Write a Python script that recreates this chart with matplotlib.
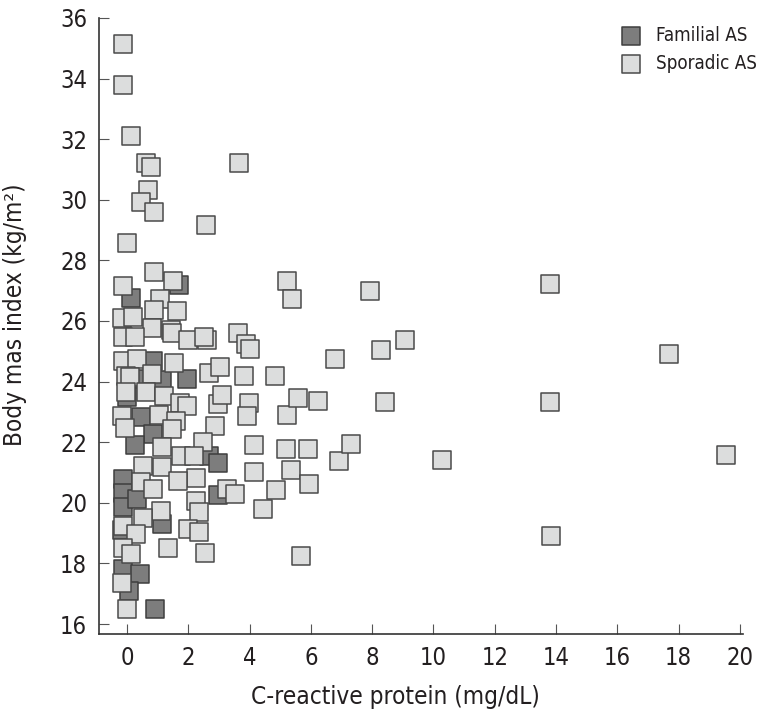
import matplotlib
matplotlib.use("Agg")
import matplotlib.pyplot as plt

plt.rcParams['font.family'] = ['Liberation Sans Narrow', 'DejaVu Sans']
plt.rcParams['font.stretch'] = 'condensed'

# C-reactive protein (mg/dL) and BMI
familial_crp = [1.69, 0.12, 0.85, 0.35, 1.13, 1.96, -0.01, 0.45, 0.84, 0.26,
                2.66, 2.97, 2.96, 1.14, -0.14, -0.14, -0.14, 0.32, -0.17,
                -0.14, 0.42, 0.05, 0.90]
familial_bmi = [27.20, 26.76, 24.68, 24.10, 24.05, 24.10, 23.50, 22.84, 22.27, 21.91,
                21.54, 21.32, 20.26, 19.31, 20.78, 20.31, 19.85, 20.12, 19.10,
                17.83, 17.65, 17.09, 16.50]

sporadic_crp = [-0.14, -0.14, 0.14, 0.63, 0.79, 3.65, 0.68, 0.44, 0.88, 2.59,
                0.01, 0.88, -0.14, 1.50, 5.21, 5.38, 1.09, 1.62, -0.16, 0.19,
                0.88, 0.80, -0.13, 0.26, 1.45, 1.47, 2.00, 2.61, 2.50, 3.61,
                3.88, 4.02, 6.79, -0.14, 0.34, 1.52, -0.05, 0.10, 0.80, 2.66,
                3.04, 3.81, 4.84, -0.05, 0.61, 1.21, 1.73, 1.95, 2.96, 3.10,
                3.97, 3.92, 5.22, 5.57, 6.22, -0.16, -0.07, 1.03, 1.60, 1.48,
                2.86, 2.47, 4.13, 5.20, 5.89, 6.93, 7.32, 1.15, 0.51, 1.14,
                1.76, 2.19, 4.13, 5.34, 5.93, 4.86, 4.45, 3.26, 3.52, 2.24,
                1.67, 2.24, 2.36, 2.00, 2.35, 2.55, 5.68, 1.35, 1.10, 0.51,
                0.45, 0.84, -0.14, 0.28, -0.14, 0.14, -0.16, -0.01, 7.93, 13.81,
                9.07, 8.29, 17.67, 8.43, 13.81, 10.27, 19.53, 13.84]
sporadic_bmi = [35.15, 33.78, 32.11, 31.22, 31.08, 31.22, 30.32, 29.93, 29.60, 29.18,
                28.58, 27.62, 27.16, 27.32, 27.32, 26.71, 26.71, 26.34, 26.09, 26.14,
                26.36, 25.77, 25.48, 25.47, 25.70, 25.60, 25.37, 25.37, 25.48, 25.59,
                25.24, 25.09, 24.76, 24.69, 24.74, 24.62, 24.18, 24.14, 24.25, 24.29,
                24.49, 24.18, 24.18, 23.67, 23.67, 23.52, 23.30, 23.19, 23.27, 23.55,
                23.30, 22.86, 22.89, 23.47, 23.36, 22.86, 22.48, 22.89, 22.71, 22.43,
                22.53, 22.01, 21.90, 21.77, 21.77, 21.38, 21.93, 21.84, 21.21, 21.19,
                21.54, 21.54, 21.03, 21.07, 20.63, 20.41, 19.79, 20.47, 20.29, 20.83,
                20.72, 20.05, 19.70, 19.15, 19.04, 18.34, 18.24, 18.52, 19.73, 19.51,
                20.68, 20.45, 19.23, 18.96, 18.50, 18.30, 17.34, 16.50, 27.00, 27.23,
                25.36, 25.03, 24.92, 23.33, 23.33, 21.40, 21.59, 18.90]

xticks = list(range(0, 21, 2))
yticks = list(range(16, 37, 2))

fig = plt.figure(figsize=(7.6, 7.13), dpi=100)
ax = fig.add_axes([0.1303, 0.1108, 0.8473, 0.864])

ax.scatter(familial_crp, familial_bmi, marker='s', s=165, c='#7d7d7d',
           edgecolors='#3e3e3e', linewidths=1.1, label='Familial AS', zorder=2)
ax.scatter(sporadic_crp, sporadic_bmi, marker='s', s=165, c='#dcdddd',
           edgecolors='#4a4a4a', linewidths=1.1, label='Sporadic AS', zorder=3)

ax.set_xlim(-0.914, 20.1)
ax.set_ylim(15.67, 36)
ax.set_xticks(xticks)
ax.set_yticks(yticks)

for s in ['top', 'right']:
    ax.spines[s].set_visible(False)
for s in ['left', 'bottom']:
    ax.spines[s].set_linewidth(1.2)
    ax.spines[s].set_color('#333333')

ax.tick_params(direction='in', length=7, width=0.8, color='#555555',
               labelsize=17, labelcolor='#231f20')
ax.tick_params(axis='x', pad=9)
ax.tick_params(axis='y', pad=8.5)

ax.set_xlabel('C-reactive protein (mg/dL)', fontsize=17.5, color='#231f20')
ax.set_ylabel('Body mas index (kg/m²)', fontsize=17.5, color='#231f20')
ax.xaxis.set_label_coords(0.46, -0.083)
ax.yaxis.set_label_coords(-0.112, 0.518)

ax.legend(loc='upper right', bbox_to_anchor=(0.996, 0.963),
          bbox_transform=fig.transFigure, frameon=False, fontsize=13.5,
          handlelength=1.0, handletextpad=0.85, labelspacing=0.45,
          borderaxespad=0, borderpad=0, labelcolor='#231f20')

fig.savefig('out.png', dpi=100)
